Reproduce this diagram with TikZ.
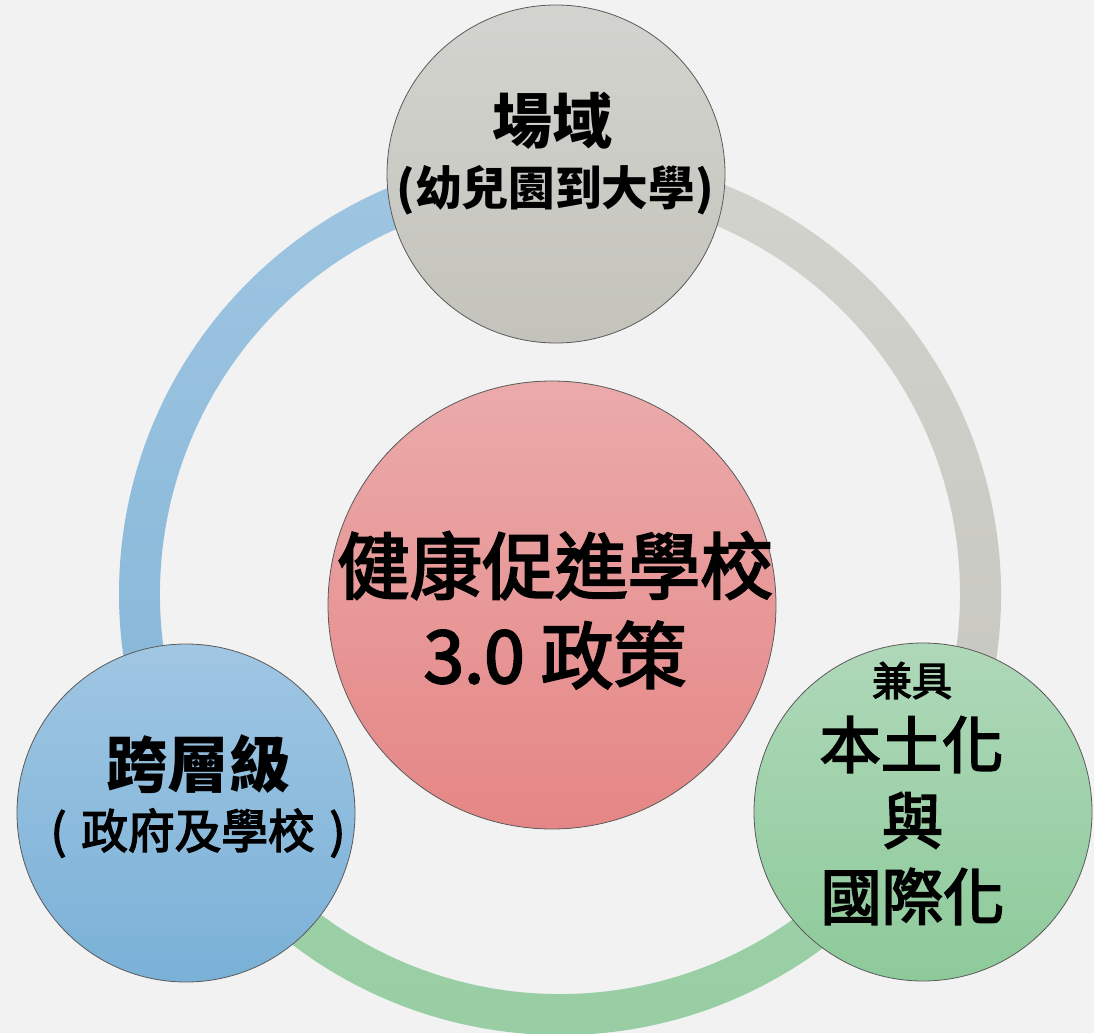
\documentclass[tikz,border=0pt]{standalone}
\usepackage{fontspec}
\newfontfamily\cjk{Noto Sans CJK TC}
\newfontfamily\cjkmid[FakeBold=3]{Noto Sans CJK TC}
\definecolor{bgcol}{HTML}{F2F2F2}
\definecolor{edgecol}{HTML}{5A5A5A}
\definecolor{grayhi}{HTML}{D3D4CF}
\definecolor{graylo}{HTML}{C3C3BB}
\definecolor{redhi}{HTML}{EBAAAA}
\definecolor{redlo}{HTML}{E58686}
\definecolor{bluehi}{HTML}{A0C6E3}
\definecolor{bluelo}{HTML}{7AB1D7}
\definecolor{greenhi}{HTML}{AFD8B9}
\definecolor{greenlo}{HTML}{8DCA9A}
\definecolor{ringbluehi}{HTML}{9FC6E2}
\definecolor{ringbluelo}{HTML}{84B5D7}
\definecolor{ringgrayhi}{HTML}{D3D3CE}
\definecolor{ringgraylo}{HTML}{C6C6BF}
\definecolor{ringgreenhi}{HTML}{9ECFA8}
\definecolor{ringgreenlo}{HTML}{97CEA3}
\begin{document}
\begin{tikzpicture}[x=0.75pt,y=0.75pt,
  bubble/.style={circle,draw=edgecol,line width=0.6pt,inner sep=0pt,minimum size=253.5pt},
  hub/.style={bubble,minimum size=336pt},
  txt/.style={inner sep=0pt,text=black,font=\cjk}]
  \def\ro{441}
  \def\ri{400}
  \def\ringpart(#1,#2)[#3]#4{%
    \shade[top color=#3,bottom color=#4] (#1:\ro) arc (#1:#2:\ro) -- (#2:\ri) arc (#2:#1:\ri) -- cycle;
  }
  \useasboundingbox (0,0) rectangle (1094,1033);
  \fill[bgcol] (0,0) rectangle (1094,1033);

  % ring
  \begin{scope}[shift={(560,439)}]
    \ringpart(90,210)[ringbluehi]{ringbluelo}
    \ringpart(210,330)[ringgreenhi]{ringgreenlo}
    \ringpart(-30,90)[ringgrayhi]{ringgraylo}
  \end{scope}

  % circles
  \node[hub,top color=redhi,bottom color=redlo] (core) at (552,428) {};
  \node[bubble,top color=grayhi,bottom color=graylo] (field) at (556,859) {};
  \node[bubble,top color=bluehi,bottom color=bluelo] (level) at (186,220) {};
  \node[bubble,top color=greenhi,bottom color=greenlo] (glocal) at (923,221) {};

  % texts
  \node[txt,font=\cjkmid\fontsize{54.5}{60}\selectfont] (core1) at (555,467.5) {健康促進學校};
  \node[txt,font=\cjkmid\fontsize{54.5}{60}\selectfont] (core2) at (555,378) {3.0 政策};
  \node[txt,font=\cjk\bfseries\fontsize{45}{50}\selectfont] (field1) at (552,912.5) {場域};
  \node[txt,font=\cjk\bfseries\fontsize{35}{40}\selectfont] (field2) at (555,842.5) {(幼兒園到大學)};
  \node[txt,font=\cjk\bfseries\fontsize{46}{50}\selectfont] (level1) at (198.5,268.5) {跨層級};
  \node[txt,font=\cjkmid\fontsize{35}{40}\selectfont] (level2) at (198,200) {(\hspace{0.32em}政府及學校\hspace{0.32em})};
  \node[txt,font=\cjkmid\fontsize{30}{34}\selectfont] (glocal1) at (912,352.5) {兼具};
  \node[txt,font=\cjkmid\fontsize{46}{50}\selectfont] (glocal2) at (911.5,288.5) {本土化};
  \node[txt,font=\cjkmid\fontsize{46}{50}\selectfont] (glocal3) at (912.5,212.5) {與};
  \node[txt,font=\cjkmid\fontsize{46}{50}\selectfont] (glocal4) at (912.5,136.5) {國際化};
\end{tikzpicture}
\end{document}
